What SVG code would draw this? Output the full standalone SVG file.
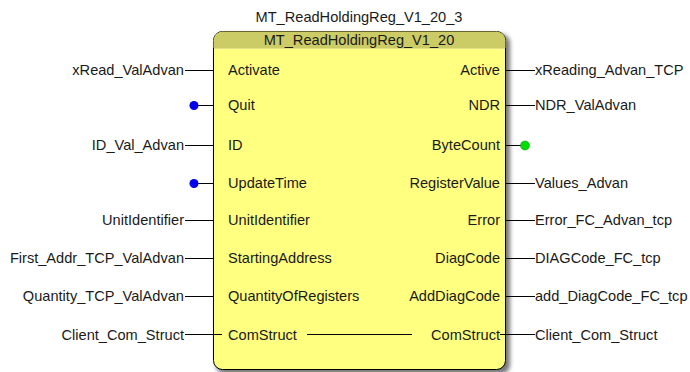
<svg xmlns="http://www.w3.org/2000/svg" width="690" height="372" viewBox="0 0 690 372">
<style>
text{font-family:"Liberation Sans",Arial,sans-serif;font-size:14.6px;fill:#1a1a1a;dominant-baseline:central}
.r{text-anchor:end}
.m{text-anchor:middle}
.w{stroke:#000;stroke-width:1;fill:none}
</style>
<defs>
<filter id="sh" x="-10%" y="-10%" width="120%" height="120%"><feGaussianBlur stdDeviation="2"/></filter>
</defs>
<rect width="690" height="372" fill="#fff"/>
<text class="m" x="359" y="17">MT_ReadHoldingReg_V1_20_3</text>
<g id="block">
<rect x="216" y="34" width="294" height="340" rx="9" fill="#777" filter="url(#sh)"/>
<rect x="213.5" y="31.5" width="292" height="338" rx="9" fill="#ffff80" stroke="#000"/>
<path d="M213.5,48 V40.5 a9,9 0 0 1 9,-9 H496.5 a9,9 0 0 1 9,9 V48 Z" fill="#cccc66"/>
<line x1="214" y1="48.5" x2="505" y2="48.5" stroke="#e0e08a"/>
<text class="m" x="359" y="40">MT_ReadHoldingReg_V1_20</text>
<text x="228" y="70">Activate</text>
<text x="228" y="105">Quit</text>
<text x="228" y="145">ID</text>
<text x="228" y="183">UpdateTime</text>
<text x="228" y="220">UnitIdentifier</text>
<text x="228" y="258">StartingAddress</text>
<text x="228" y="296">QuantityOfRegisters</text>
<text x="228" y="335">ComStruct</text>
<text class="r" x="500" y="70">Active</text>
<text class="r" x="500" y="105">NDR</text>
<text class="r" x="500" y="145">ByteCount</text>
<text class="r" x="500" y="183">RegisterValue</text>
<text class="r" x="500" y="220">Error</text>
<text class="r" x="500" y="258">DiagCode</text>
<text class="r" x="500" y="296">AddDiagCode</text>
<text class="r" x="500" y="335">ComStruct</text>
</g>
<g id="connectors">
<path class="w" d="M185,70.5H213 M194,105.5H213 M185,145.5H213 M194,183.5H213 M185,220.5H213 M185,258.5H213 M185,296.5H213 M185,334.5H222 M307,334.5H412 M506,70.5H535 M506,105.5H535 M506,145.5H525 M506,183.5H535 M506,220.5H535 M506,258.5H535 M506,296.5H535 M500,334.5H535"/>
<circle cx="194" cy="105.5" r="4.5" fill="#0000ee"/>
<circle cx="194" cy="183.5" r="4.5" fill="#0000ee"/>
<circle cx="525" cy="145.5" r="4.5" fill="#00dd00" stroke="#008800" stroke-width="0.5"/>
</g>
<g id="labels">
<text class="r" x="184" y="70">xRead_ValAdvan</text>
<text class="r" x="184" y="145">ID_Val_Advan</text>
<text class="r" x="184" y="220">UnitIdentifier</text>
<text class="r" x="184" y="258">First_Addr_TCP_ValAdvan</text>
<text class="r" x="184" y="296">Quantity_TCP_ValAdvan</text>
<text class="r" x="184" y="335">Client_Com_Struct</text>
<text x="535" y="70">xReading_Advan_TCP</text>
<text x="535" y="105">NDR_ValAdvan</text>
<text x="535" y="183">Values_Advan</text>
<text x="535" y="220">Error_FC_Advan_tcp</text>
<text x="535" y="258">DIAGCode_FC_tcp</text>
<text x="535" y="296">add_DiagCode_FC_tcp</text>
<text x="535" y="335">Client_Com_Struct</text>
</g>
</svg>
